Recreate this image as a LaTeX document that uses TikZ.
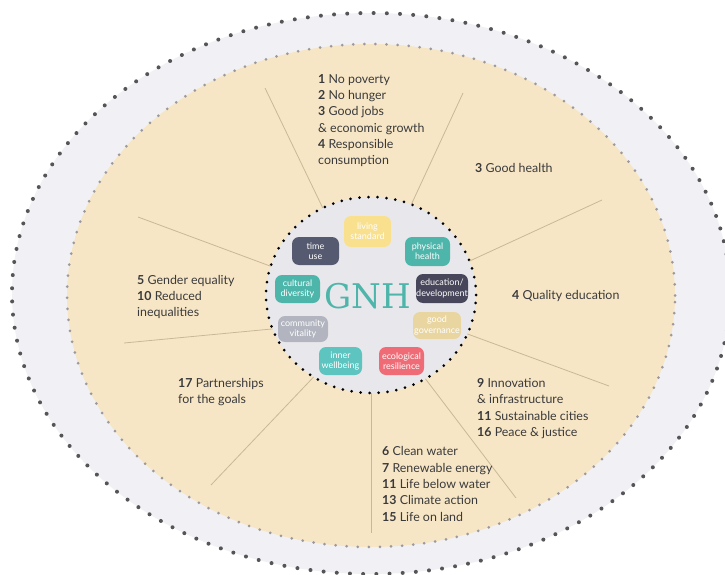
\documentclass[tikz,border=0pt]{standalone}
\usepackage{fontspec}
\setmainfont{Lato}
\newfontfamily\slabfont{DejaVu Serif}
\usetikzlibrary{shapes.geometric}
\definecolor{outerfill}{HTML}{F1F1F5}
\definecolor{innerfill}{HTML}{F7E6C5}
\definecolor{corefill}{HTML}{E8E8EC}
\definecolor{outerdot}{HTML}{555558}
\definecolor{innerdot}{HTML}{9B999C}
\definecolor{spokecol}{HTML}{C8B898}
\definecolor{textcol}{HTML}{3A3A3C}
\definecolor{tealc}{HTML}{4DB5AA}
\definecolor{tealb}{HTML}{5EC4C0}
\definecolor{yellowc}{HTML}{F8E08E}
\definecolor{slatec}{HTML}{565A70}
\definecolor{darkc}{HTML}{47465A}
\definecolor{sandc}{HTML}{E8D5A0}
\definecolor{greyc}{HTML}{B2B5BF}
\definecolor{redc}{HTML}{EF6B76}
\tikzset{
  ring/.style={ellipse,inner sep=0pt,outer sep=0pt,line cap=round},
  spoke/.style={draw=spokecol,line width=0.8pt},
  goals/.style={anchor=west,align=left,inner sep=0pt,text=textcol,font=\fontsize{12.4}{16.35}\selectfont},
  pill/.style={rounded corners=7pt,inner sep=0pt,outer sep=0pt,align=center,text=white,font=\fontsize{9}{10.4}\selectfont},
}
\begin{document}
\begin{tikzpicture}[x=1pt,y=-1pt]
\path[use as bounding box,clip] (0,0) rectangle (725,575);
\fill[white] (0,0) rectangle (725,575);
\node[ring,fill=outerfill,draw=outerdot,line width=4pt,dash pattern=on 0pt off 13.2pt,minimum width=718pt,minimum height=561pt] (outer) at (371,293.5) {};
\node[ring,fill=innerfill,draw=innerdot,line width=3pt,dash pattern=on 0pt off 11.1pt,minimum width=608pt,minimum height=503pt] (inner) at (371,295.5) {};
\node[ring,fill=corefill,draw=black,line width=3pt,dash pattern=on 0pt off 9pt,minimum width=210pt,minimum height=196pt] (core) at (371,295) {};
\coordinate (e1) at (265,88);
\coordinate (e2) at (463,93);
\coordinate (e3) at (602,200);
\coordinate (e4) at (609,386);
\coordinate (e5) at (516,498);
\coordinate (e6) at (371,533);
\coordinate (e7) at (211,485);
\coordinate (e8) at (124,343);
\coordinate (e9) at (138,217);
\draw[spoke] (e1) -- (core.119.4);
\draw[spoke] (e2) -- (core.66.3);
\draw[spoke] (e3) -- (core.19);
\draw[spoke] (e4) -- (core.-22.4);
\draw[spoke] (e5) -- (core.-57.4);
\draw[spoke] (e6) -- (core.-90);
\draw[spoke] (e7) -- (core.235.5);
\draw[spoke] (e8) -- (core.199);
\draw[spoke] (e9) -- (core.164.5);
\node[pill,fill=yellowc,minimum width=47pt,minimum height=31pt] (living) at (367.5,231.5) {living\\standard};
\node[pill,fill=slatec,minimum width=47pt,minimum height=28pt] (time) at (315.5,251) {time\\use};
\node[pill,fill=tealc,minimum width=45pt,minimum height=29pt] (physical) at (427.5,251.5) {physical\\health};
\node[pill,fill=tealc,minimum width=45pt,minimum height=28pt] (cultural) at (297.5,289) {cultural\\diversity};
\node[pill,fill=darkc,minimum width=52pt,minimum height=29pt] (education) at (442,288.5) {education/\\development};
\node[pill,fill=sandc,minimum width=48pt,minimum height=27pt] (governance) at (437,325.5) {good\\governance};
\node[pill,fill=greyc,minimum width=50pt,minimum height=26pt] (community) at (303,329) {community\\vitality};
\node[pill,fill=tealb,minimum width=43pt,minimum height=28pt] (wellbeing) at (340.5,361) {inner\\wellbeing};
\node[pill,fill=redc,minimum width=45pt,minimum height=28pt] (ecological) at (401.5,361) {ecological\\resilience};
\node[inner sep=0pt,text=tealc,font=\slabfont\fontsize{34}{34}\selectfont] (gnh) at (368,296) {GNH};
\node[goals] (g1) at (318,120.5) {\textbf{1} No poverty\\\textbf{2} No hunger\\\textbf{3} Good jobs\\\& economic growth\\\textbf{4} Responsible\\consumption};
\node[goals] (g2) at (475,167.5) {\textbf{3} Good health};
\node[goals] (g3) at (512,295.5) {\textbf{4} Quality education};
\node[goals] (g4) at (137,297) {\textbf{5} Gender equality\\\textbf{10} Reduced\\inequalities};
\node[goals] (g5) at (178,392) {\textbf{17} Partnerships\\for the goals};
\node[goals] (g6) at (477,408.5) {\textbf{9} Innovation\\\& infrastructure\\\textbf{11} Sustainable cities\\\textbf{16} Peace \& justice};
\node[goals] (g7) at (382,484) {\textbf{6} Clean water\\\textbf{7} Renewable energy\\\textbf{11} Life below water\\\textbf{13} Climate action\\\textbf{15} Life on land};
\end{tikzpicture}
\end{document}
